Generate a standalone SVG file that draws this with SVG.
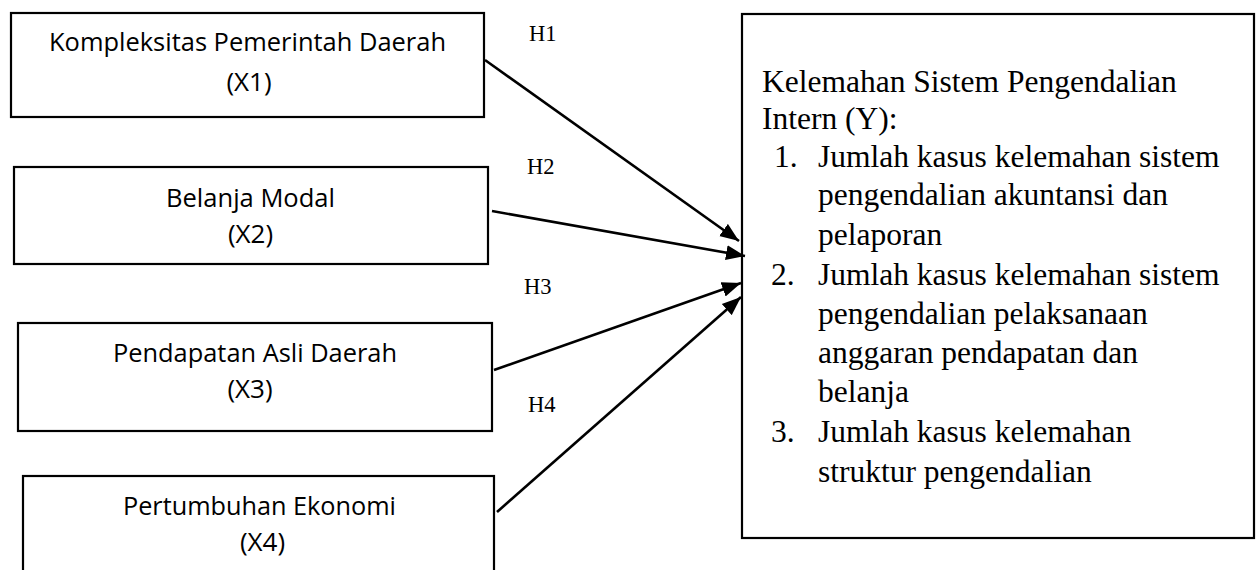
<svg xmlns="http://www.w3.org/2000/svg" width="1257" height="570" viewBox="0 0 1257 570">
<style>
.box{fill:#fff;stroke:#000;stroke-width:2.2}
.lbl{font-family:"Open Sans","Noto Sans",sans-serif;font-size:26px;fill:#000;text-anchor:middle}
.h{font-family:"Liberation Serif","Times New Roman",serif;font-size:22.5px;fill:#000}
.y{font-family:"Liberation Serif","Times New Roman",serif;font-size:31.5px;fill:#000}
.edge{stroke:#000;stroke-width:2.6;fill:none;marker-end:url(#arr)}
</style>
<defs>
<marker id="arr" markerUnits="userSpaceOnUse" markerWidth="20" markerHeight="16" refX="19" refY="7.5" orient="auto" viewBox="0 0 20 15">
<path d="M0,0 L19,7.5 L0,15 Z" fill="#000"/>
</marker>
</defs>
<rect width="1257" height="570" fill="#fff"/>
<g id="x1">
<rect class="box" x="11" y="13" width="473" height="104"/>
<text class="lbl" x="247.5" y="51" textLength="397" lengthAdjust="spacingAndGlyphs">Kompleksitas Pemerintah Daerah</text>
<text class="lbl" x="249" y="91">(X1)</text>
</g>
<g id="x2">
<rect class="box" x="14" y="167" width="474" height="97"/>
<text class="lbl" x="250.5" y="207" textLength="169" lengthAdjust="spacingAndGlyphs">Belanja Modal</text>
<text class="lbl" x="250.5" y="243">(X2)</text>
</g>
<g id="x3">
<rect class="box" x="18" y="323" width="474" height="108"/>
<text class="lbl" x="255" y="362" textLength="284" lengthAdjust="spacingAndGlyphs">Pendapatan Asli Daerah</text>
<text class="lbl" x="250" y="398">(X3)</text>
</g>
<g id="x4">
<rect class="box" x="23" y="476" width="471" height="110"/>
<text class="lbl" x="259.5" y="515" textLength="273" lengthAdjust="spacingAndGlyphs">Pertumbuhan Ekonomi</text>
<text class="lbl" x="262.5" y="551">(X4)</text>
</g>
<g id="y">
<rect class="box" x="742" y="14" width="512" height="524"/>
<text class="y" x="762" y="92">Kelemahan Sistem Pengendalian</text>
<text class="y" x="762" y="129">Intern (Y):</text>
<text class="y" x="774" y="167">1.</text>
<text class="y" x="818" y="167">Jumlah kasus kelemahan sistem</text>
<text class="y" x="818" y="205">pengendalian akuntansi dan</text>
<text class="y" x="818" y="245">pelaporan</text>
<text class="y" x="771" y="285">2.</text>
<text class="y" x="818" y="285">Jumlah kasus kelemahan sistem</text>
<text class="y" x="818" y="324">pengendalian pelaksanaan</text>
<text class="y" x="818" y="363">anggaran pendapatan dan</text>
<text class="y" x="818" y="402">belanja</text>
<text class="y" x="771" y="442">3.</text>
<text class="y" x="818" y="442">Jumlah kasus kelemahan</text>
<text class="y" x="818" y="482">struktur pengendalian</text>
</g>
<g id="connectors">
<line class="edge" x1="485" y1="60" x2="739" y2="241"/>
<line class="edge" x1="492" y1="211" x2="745" y2="256"/>
<line class="edge" x1="494" y1="370" x2="741" y2="283"/>
<line class="edge" x1="497" y1="512" x2="741" y2="297"/>
<text class="h" x="529" y="41">H1</text>
<text class="h" x="527" y="174">H2</text>
<text class="h" x="524" y="294">H3</text>
<text class="h" x="528" y="412">H4</text>
</g>
</svg>
